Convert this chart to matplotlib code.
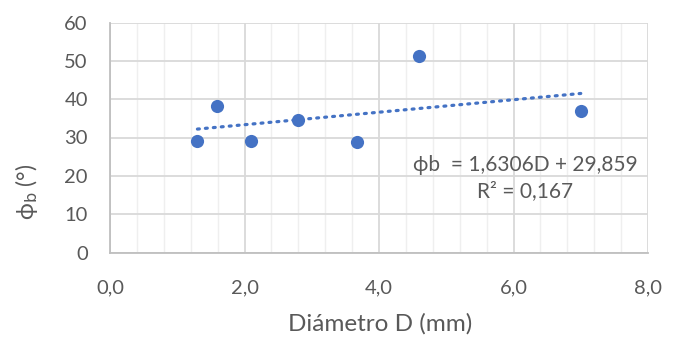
import matplotlib.pyplot as plt
from matplotlib.ticker import MultipleLocator, FuncFormatter
import numpy as np

plt.rcParams['font.family'] = ['Lato', 'DejaVu Sans']

# Data
diametro = [1.30, 1.59, 2.09, 2.79, 3.67, 4.60, 7.00]
phi_b = [29.2, 38.3, 29.2, 34.5, 28.7, 51.2, 37.0]

blue = '#4472C4'
txt = '#595959'

W, H = 685, 357
fig = plt.figure(figsize=(W / 100, H / 100), dpi=100)
ax = fig.add_axes([110 / W, 1 - 252.5 / H, 538 / W, 230 / H])

ax.scatter(diametro, phi_b, s=90, color=blue, zorder=3, linewidths=0)

# linear trendline
coef = np.polyfit(diametro, phi_b, 1)
xs = np.array([min(diametro), max(diametro)])
ax.plot(xs, np.polyval(coef, xs), color=blue, lw=2.3, ls=(0, (0.6, 1.9)),
        dash_capstyle='round', zorder=2)

ax.set_xlim(0, 8)
ax.set_ylim(0, 60)
ax.xaxis.set_major_locator(MultipleLocator(2))
ax.xaxis.set_minor_locator(MultipleLocator(0.4))
ax.yaxis.set_major_locator(MultipleLocator(10))
ax.xaxis.set_major_formatter(FuncFormatter(lambda v, p: f'{v:.1f}'.replace('.', ',')))
ax.yaxis.set_major_formatter(FuncFormatter(lambda v, p: f'{v:.0f}'))

ax.grid(which='major', color='#D9D9D9', lw=1.3, zorder=0)
ax.grid(which='minor', axis='x', color='#EFEFEF', lw=1.0, zorder=0)
ax.set_axisbelow(True)

for s in ['top', 'right']:
    ax.spines[s].set_visible(False)
for s in ['left', 'bottom']:
    ax.spines[s].set_color('#BFBFBF')
    ax.spines[s].set_linewidth(1.3)

ax.tick_params(which='both', length=0, labelsize=14.5, labelcolor=txt)
ax.tick_params(axis='x', pad=19)
ax.tick_params(axis='y', pad=16)

ax.set_xlabel('Diámetro D (mm)', fontsize=17.5, color=txt)
ax.xaxis.set_label_coords((380 - 110) / 538, (252 - 323) / 230)
ax.xaxis.label.set_va('center')
ax.set_ylabel(r'ϕ$_\mathrm{b}$ (°)', fontsize=16.5, color=txt)
ax.yaxis.set_label_coords((26 - 110) / 538, (252 - 191) / 230)
ax.yaxis.label.set_va('center')

ax.text(6.17, 19.5, 'ϕb  = 1,6306D + 29,859\nR² = 0,167', ha='center', va='center',
        fontsize=15, color=txt, linespacing=1.4)

fig.savefig('out.png', dpi=100)
